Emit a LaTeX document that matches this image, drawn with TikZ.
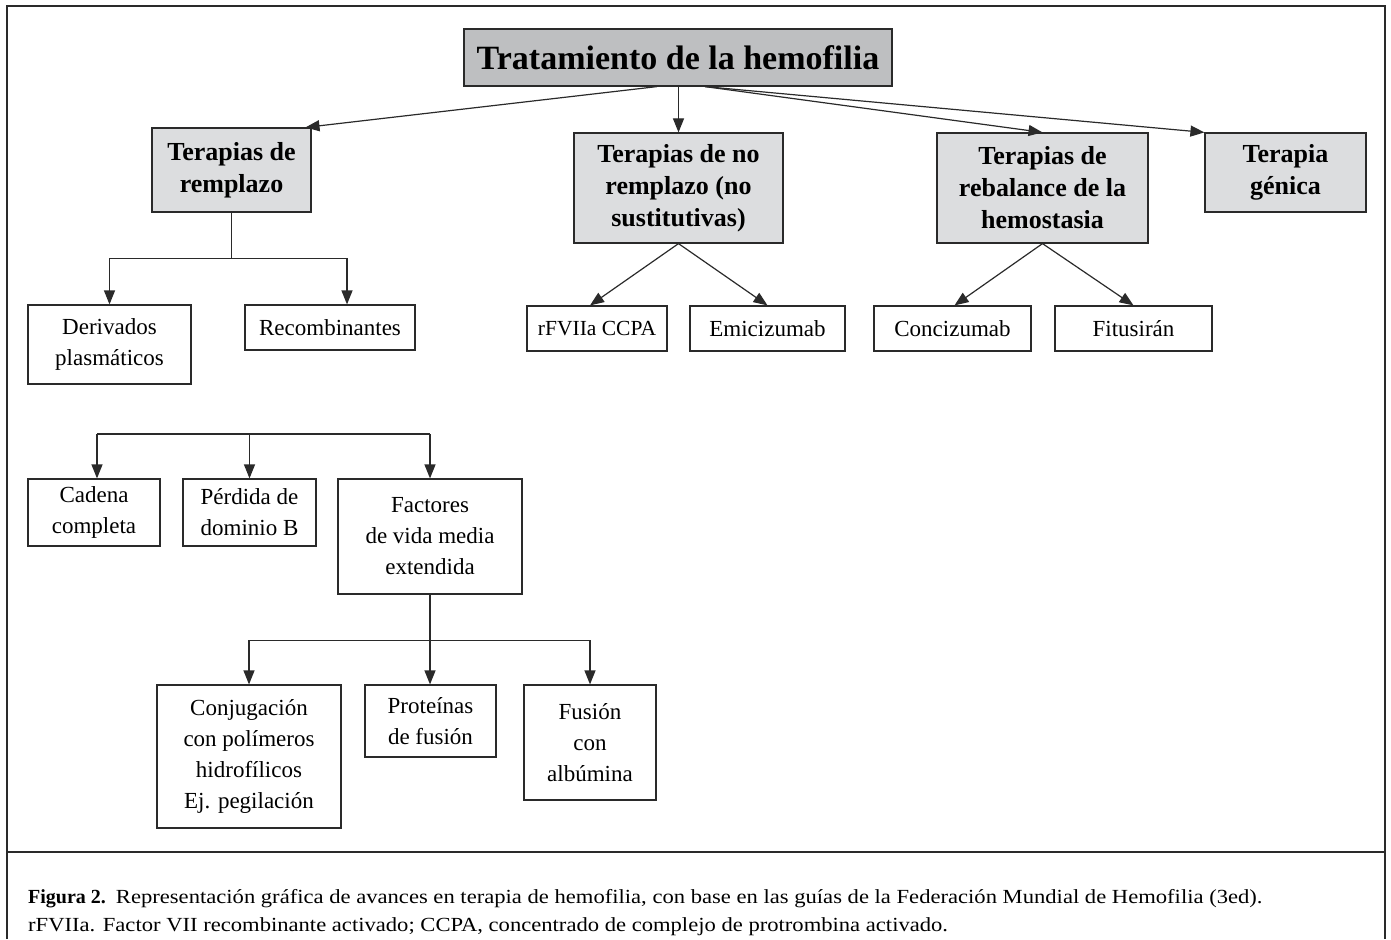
\documentclass[tikz,border=0pt]{standalone}
\usepackage{fontspec}
\setmainfont{Liberation Serif}
\newfontfamily\capf{Liberation Serif}[FakeStretch=1.13]
\usetikzlibrary{arrows.meta,calc}
\definecolor{titlegray}{HTML}{BEBFC1}
\definecolor{headgray}{HTML}{DCDDDF}
\definecolor{edge}{HTML}{2A2A2A}
\tikzset{
  box/.style={draw=edge, line width=1.2pt, align=center, inner sep=0pt,
    font=\fontsize{23}{31}\selectfont},
  headbox/.style={box, fill=headgray, font=\fontsize{26}{32}\selectfont\bfseries},
  titlebox/.style={box, fill=titlegray, font=\fontsize{34}{38}\selectfont\bfseries},
  conn/.style={draw=edge, line width=1.2pt},
  arr/.style={conn, -{Triangle[length=14pt,width=11pt]}},
  frameline/.style={draw=edge, line width=2.5pt}
}
\begin{document}
\begin{tikzpicture}[x=1pt,y=-1pt]
\useasboundingbox (0,0) rectangle (1391,939);
% frame
\draw[frameline] (7,939) -- (7,6) -- (1385,6) -- (1385,939);
\draw[frameline] (7,852) -- (1385,852);
% nodes
\node[titlebox, minimum width=428, minimum height=57] (title) at (678,57.5) {Tratamiento de la hemofilia};
\node[headbox, minimum width=159, minimum height=84] (remp) at (231.5,170) {Terapias de\\remplazo};
\node[headbox, minimum width=209, minimum height=110] (noremp) at (678.5,188) {Terapias de no\\remplazo (no\\sustitutivas)};
\node[headbox, minimum width=211, minimum height=110] (rebal) at (1042.5,188) {Terapias de\\rebalance de la\\hemostasia};
\node[headbox, minimum width=161, minimum height=79] (genica) at (1285.5,172.5) {Terapia\\génica};
\node[box, minimum width=163, minimum height=79] (deriv) at (109.5,344.5) {Derivados\\plasmáticos};
\node[box, minimum width=170, minimum height=45] (recomb) at (330,327.5) {Recombinantes};
\node[box, minimum width=140, minimum height=45, font=\fontsize{21.5}{31}\selectfont] (rfvii) at (597,328.5) {rFVIIa CCPA};
\node[box, minimum width=155, minimum height=45] (emici) at (767.5,328.5) {Emicizumab};
\node[box, minimum width=157, minimum height=45] (conci) at (952.5,328.5) {Concizumab};
\node[box, minimum width=157, minimum height=45] (fitu) at (1133.5,328.5) {Fitusirán};
\node[box, minimum width=132, minimum height=67] (cadena) at (94,512.5) {Cadena\\completa};
\node[box, minimum width=133, minimum height=67] (perdida) at (249.5,512.5) {Pérdida de\\dominio B};
\node[box, minimum width=184, minimum height=115] (factores) at (430,536.5) {Factores\\de vida media\\extendida};
\node[box, minimum width=184, minimum height=143] (conj) at (249,756.5) {Conjugación\\con polímeros\\hidrofílicos\\Ej. pegilación};
\node[box, minimum width=131, minimum height=72] (prot) at (430.5,721) {Proteínas\\de fusión};
\node[box, minimum width=132, minimum height=115] (fusion) at (590,742.5) {Fusión\\con\\albúmina};
% connectors from title
\draw[arr] ([xshift=-21pt]title.south) -- ([xshift=74pt]remp.north);
\draw[arr] (noremp.north |- title.south) -- (noremp.north);
\draw[arr] ([xshift=27pt]title.south) -- (rebal.north);
\draw[arr] ([xshift=27pt]title.south) -- (genica.north west);
% remplazo
\draw[arr] (remp.south) -- ++(0,46) -| (deriv.north);
\draw[arr] (remp.south) -- ++(0,46) -| ([xshift=17pt]recomb.north);
% no remplazo
\draw[arr] (noremp.south) -- ([xshift=-7pt]rfvii.north);
\draw[arr] (noremp.south) -- (emici.north);
% rebalance
\draw[arr] (rebal.south) -- ([xshift=2pt]conci.north);
\draw[arr] (rebal.south) -- (fitu.north);
% recombinant bar
\coordinate (bar) at (248,434);
\draw[conn] ([xshift=3pt]cadena.north |- bar) -- (factores.north |- bar);
\draw[arr] ([xshift=3pt]cadena.north |- bar) -- ([xshift=3pt]cadena.north);
\draw[arr] (perdida.north |- bar) -- (perdida.north);
\draw[arr] (factores.north |- bar) -- (factores.north);
% factores
\draw[arr] (factores.south) -- ++(0,46) -| (conj.north);
\draw[arr] (factores.south) -- (prot.north -| factores.south);
\draw[arr] (factores.south) -- ++(0,46) -| (fusion.north);
% caption
\node[anchor=base west, align=left, inner sep=0pt, font=\fontsize{20}{28}\selectfont] (caption) at (28,931)
 {\textbf{Figura 2.}\ \ {\capf Representación gráfica de avances en terapia de hemofilia, con base en las guías de la Federación Mundial de Hemofilia (3ed).}\\
 {\capf rFVIIa. Factor VII recombinante activado; CCPA, concentrado de complejo de protrombina activado.}};
\end{tikzpicture}
\end{document}
